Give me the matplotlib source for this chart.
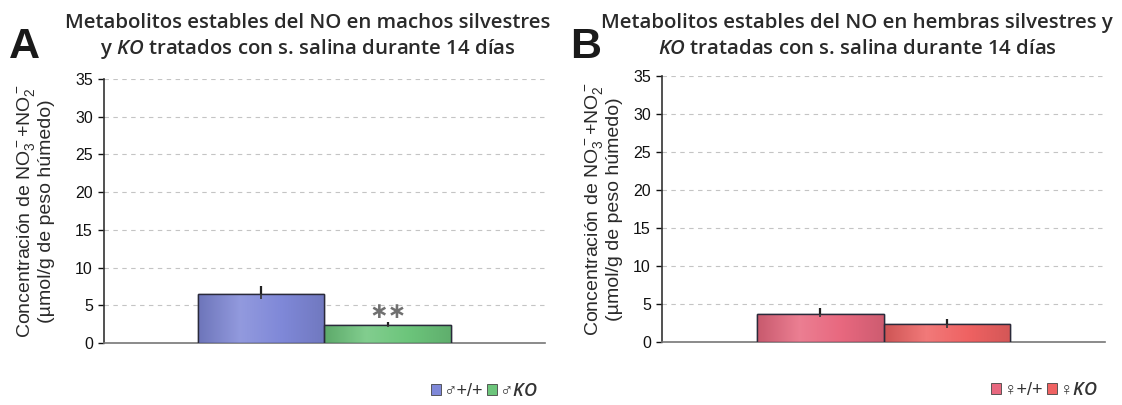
import numpy as np
import matplotlib
matplotlib.use("Agg")
import matplotlib.pyplot as plt
from matplotlib.patches import Rectangle
from matplotlib.colors import LinearSegmentedColormap

# values (µmol/g wet weight) and SEM for each group
groups_a = ["♂+/+", "♂KO"]
values_a = [6.5, 2.4]
errors_a = [1.0, 0.4]
colors_a = ["#7f88d8", "#6cc57b"]

groups_b = ["♀+/+", "♀KO"]
values_b = [3.7, 2.3]
errors_b = [0.8, 0.7]
colors_b = ["#e8687f", "#ef6262"]

yticks = [0, 5, 10, 15, 20, 25, 30, 35]
signif_a = ["", "**"]

titles = [
    ("Metabolitos estables del NO en machos silvestres",
     r"y $\mathit{KO}$ tratados con s. salina durante 14 días"),
    ("Metabolitos estables del NO en hembras silvestres y",
     r"$\mathit{KO}$ tratadas con s. salina durante 14 días"),
]
panel_letters = ["A", "B"]

plt.rcParams["font.family"] = ["Liberation Sans", "DejaVu Sans"]
plt.rcParams["mathtext.fontset"] = "custom"
plt.rcParams["mathtext.it"] = "Open Sans:italic:semibold"
plt.rcParams["mathtext.rm"] = "Liberation Sans"

fig = plt.figure(figsize=(11.22, 4.05), dpi=100)
ax_a = fig.add_axes([0.0927, 0.153, 0.393, 0.652])
ax_b = fig.add_axes([0.590, 0.156, 0.395, 0.656])


def shade(color):
    # slightly darker at the edges, lighter in the middle
    c = np.array(matplotlib.colors.to_rgb(color))
    dark = c * 0.86
    light = np.clip(c + (1 - c) * 0.15, 0, 1)
    return LinearSegmentedColormap.from_list("g", [dark, light, c, dark * 1.03])


def draw_panel(ax, labels, values, errors, colors, label_x, marks=None):
    width = 0.286
    xs = [-width / 2, width / 2]
    bars = ax.bar(xs, values, width=width, color=colors, edgecolor="#2a2a3a",
                  linewidth=1.0, zorder=3)
    for bar, col in zip(bars, colors):
        x0, y0 = bar.get_x(), bar.get_y()
        w, h = bar.get_width(), bar.get_height()
        grad = np.linspace(0, 1, 256).reshape(1, -1)
        im = ax.imshow(grad, cmap=shade(col), aspect="auto",
                       extent=[x0, x0 + w, y0, y0 + h], zorder=3.5)
        clip = Rectangle((x0, y0), w, h, transform=ax.transData)
        im.set_clip_path(clip)
        ax.add_patch(Rectangle((x0, y0), w, h, fill=False,
                               edgecolor="#2a2a3a", linewidth=1.0, zorder=4))
    ax.errorbar(xs, values, yerr=[np.zeros(len(errors)), errors], fmt="none",
                ecolor="#222222", elinewidth=1.6, capsize=0, zorder=5)
    ax.errorbar(xs, values, yerr=[[e * 0.6 for e in errors], [0] * len(errors)],
                fmt="none", ecolor="#333333", elinewidth=1.2, capsize=0, zorder=5)
    if marks:
        for x, v, e, m in zip(xs, values, errors, marks):
            if m:
                ax.text(x, v + e + 1.2, m.replace("*", "∗"), ha="center",
                        va="center", fontsize=16, color="#707070",
                        fontweight="bold", zorder=6)
    ax.set_xlim(-0.5, 0.5)
    ax.set_ylim(0, 35)
    ax.set_yticks(yticks)
    ax.set_xticks([])
    ax.tick_params(axis="y", labelsize=11.5, length=4, width=1, direction="out",
                   pad=4, colors="#111111")
    ax.yaxis.grid(True, linestyle=(0, (4, 4)), color="#c4c4c4", linewidth=0.8)
    ax.set_axisbelow(True)
    for s in ["top", "right"]:
        ax.spines[s].set_visible(False)
    ax.spines["left"].set_color("#333333")
    ax.spines["left"].set_linewidth(1.2)
    ax.spines["bottom"].set_color("#777777")
    ax.spines["bottom"].set_linewidth(1.2)
    ax.set_ylabel("Concentración de NO$_3^-$+NO$_2^-$\n(µmol/g de peso húmedo)",
                  fontsize=14, color="#2a2a2a", linespacing=1.0)
    ax.yaxis.set_label_coords(label_x, 0.5)
    handles = [Rectangle((0, 0), 1, 1, facecolor=c, edgecolor="#444444",
                         linewidth=0.6) for c in colors]
    leg_labels = [labels[0], labels[1].replace("KO", r"$\mathit{KO}$")]
    ax.legend(handles, leg_labels, loc="upper right", bbox_to_anchor=(1.0, -0.125),
              ncol=2, frameon=False, fontsize=13, handlelength=0.55,
              handleheight=0.55, handletextpad=0.15, columnspacing=0.2,
              borderaxespad=0, labelcolor="#333333")


draw_panel(ax_a, groups_a, values_a, errors_a, colors_a, -0.111, signif_a)
draw_panel(ax_b, groups_b, values_b, errors_b, colors_b, -0.088)

title_x = [0.274, 0.764]
letter_x = [0.008, 0.508]
for tx, lx, (l1, l2), letter in zip(title_x, letter_x, titles, panel_letters):
    fig.text(tx, 0.944, l1, ha="center", va="center", fontsize=14.7,
             family="Open Sans", fontweight="semibold", color="#2a2a2a")
    fig.text(tx, 0.878, l2, ha="center", va="center", fontsize=14.7,
             family="Open Sans", fontweight="semibold", color="#2a2a2a")
    fig.text(lx, 0.885, letter, ha="left", va="center", fontsize=31,
             family="Liberation Sans", fontweight="bold", color="#1a1a1a")

fig.savefig("out.png", dpi=100)
